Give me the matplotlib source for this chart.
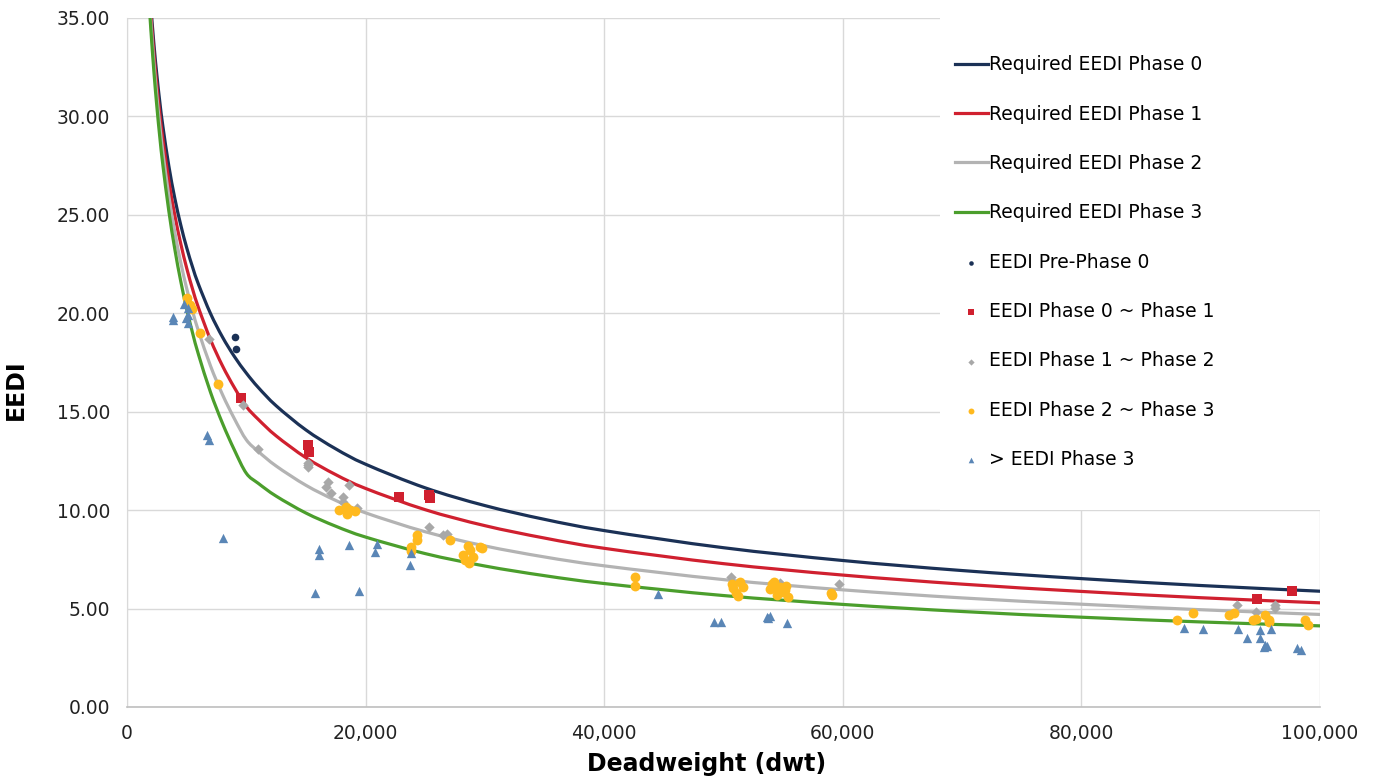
import matplotlib

matplotlib.use("Agg")

import matplotlib.pyplot as plt
import numpy as np
from matplotlib.lines import Line2D
from matplotlib.patches import PathPatch, Rectangle
from matplotlib.path import Path
from matplotlib.ticker import FuncFormatter, MultipleLocator

plt.rcParams["font.family"] = ["DejaVu Sans"]

# required EEDI lines
line_dwt = [1900, 2000, 2250, 2500, 2750, 3000, 3500, 4000, 4500, 5000, 5500, 6000,
            7000, 8000, 9000, 10000, 11000, 12500, 15000, 17500, 20000, 25000,
            30000, 35000, 40000, 50000, 60000, 70000, 80000, 90000, 100000]
phase0 = [36.40, 35.55, 33.68, 32.09, 30.71, 29.51, 27.49, 25.85, 24.49, 23.33, 22.33, 21.45,
          19.98, 18.79, 17.80, 16.96, 16.23, 15.30, 14.07, 13.11, 12.33, 11.13,
          10.23, 9.53, 8.96, 8.09, 7.44, 6.93, 6.52, 6.17, 5.88]
phase1 = [36.04, 35.16, 33.21, 31.56, 30.11, 28.85, 26.73, 24.99, 23.54, 22.29, 21.21, 20.26,
          18.65, 17.33, 16.22, 15.26, 14.61, 13.77, 12.66, 11.80, 11.10, 10.02,
          9.21, 8.58, 8.06, 7.28, 6.70, 6.24, 5.87, 5.55, 5.29]
phase2 = [35.67, 34.76, 32.74, 31.02, 29.52, 28.20, 25.96, 24.13, 22.58, 21.26, 20.10, 19.07,
          17.32, 15.87, 14.64, 13.57, 12.98, 12.24, 11.26, 10.49, 9.86, 8.90,
          8.18, 7.62, 7.17, 6.47, 5.95, 5.54, 5.22, 4.94, 4.70]
phase3 = [35.31, 34.37, 32.28, 30.49, 28.92, 27.54, 25.20, 23.27, 21.63, 20.22, 18.98, 17.88,
          15.98, 14.41, 13.05, 11.87, 11.36, 10.71, 9.85, 9.18, 8.63, 7.79,
          7.16, 6.67, 6.27, 5.66, 5.21, 4.85, 4.56, 4.32, 4.12]

# ships
pre0_dwt = [9050, 9110]
pre0_eedi = [18.8, 18.2]

p01_dwt = [9530, 15146, 15280, 22824, 25300, 25400, 94691, 97625]
p01_eedi = [15.71, 13.31, 12.97, 10.68, 10.75, 10.60, 5.50, 5.91]

p12_dwt = [6873, 9748, 10950, 15146, 15146, 15200, 16873, 16680, 17074, 18633, 18130,
           18130, 19253, 25339, 26512, 26847, 50602, 54734, 59705, 93015, 94633,
           96250, 96250]
p12_eedi = [18.71, 15.33, 13.10, 12.41, 12.21, 12.30, 11.44, 11.19, 10.86, 11.28, 10.65,
            10.43, 10.09, 9.16, 8.74, 8.79, 6.59, 6.31, 6.25, 5.20, 4.84,
            5.04, 5.18]

p23_dwt = [5004, 5281, 5423, 6119, 7653, 17795, 18357, 18466, 18692, 19111,
           24333, 24333, 23780, 23780, 27074, 28608, 28750, 28189, 28331, 28692,
           28977, 29588, 29750, 42581, 42581, 50686, 50820, 51046, 51239, 51382,
           51658, 54039, 54315, 54734, 55011, 55237, 55430, 54508, 53896, 54231,
           55150, 59068, 59000, 87986, 89377, 92344, 92789, 94407, 94633, 95412,
           95697, 95697, 98740, 99017]
p23_eedi = [20.76, 20.42, 20.20, 18.98, 16.39, 10.01, 10.14, 9.80, 10.01, 9.96,
            8.74, 8.48, 8.14, 7.94, 8.48, 8.18, 7.98, 7.72, 7.47, 7.33,
            7.63, 8.14, 8.10, 6.62, 6.15, 6.25, 6.03, 5.78, 5.64, 6.37,
            6.08, 6.25, 6.03, 6.11, 5.86, 6.15, 5.57, 5.69, 5.98, 6.35,
            5.94, 5.69, 5.79, 4.42, 4.76, 4.69, 4.76, 4.42, 4.49, 4.67,
            4.42, 4.30, 4.42, 4.18]

p3_dwt = [3831, 3856, 4803, 5088, 5088, 5138, 4945, 6731, 6898, 8072, 16093, 16093,
          15758, 18633, 20980, 20812, 23780, 23721, 19471, 44483, 49202, 49814,
          53620, 53896, 53728, 55346, 88623, 90215, 93149, 93853, 94968, 94968,
          95387, 95303, 95555, 95865, 98044, 98380]
p3_eedi = [19.66, 19.81, 20.47, 20.25, 19.91, 19.52, 19.76, 13.82, 13.56, 8.58, 8.01, 7.72,
           5.78, 8.23, 8.28, 7.89, 7.81, 7.20, 5.91, 5.72, 4.30, 4.33,
           4.59, 4.62, 4.52, 4.28, 4.00, 3.95, 3.96, 3.52, 3.91, 3.52,
           3.15, 3.05, 3.12, 3.95, 2.98, 2.90]

navy = "#1b3156"
red = "#d0202f"
grey = "#b3b3b3"
green = "#4b9e2c"
orange = "#ffb91e"
blue = "#5a86b6"
diamond_grey = "#a8a8a8"


def smooth_path(xs, ys):
    # Excel-style smoothed line: Catmull-Rom segments drawn as cubic Beziers
    pts = np.column_stack([xs, ys]).astype(float)
    ext = np.vstack([pts[0], pts, pts[-1]])
    verts = [pts[0]]
    codes = [Path.MOVETO]
    for i in range(1, len(ext) - 2):
        p0, p1, p2, p3 = ext[i - 1], ext[i], ext[i + 1], ext[i + 2]
        verts += [p1 + (p2 - p0) / 6.0, p2 - (p3 - p1) / 6.0, p2]
        codes += [Path.CURVE4] * 3
    return Path(verts, codes)


fig = plt.figure(figsize=(13.81, 7.78), dpi=100)
ax = fig.add_axes([0.092, 0.0913, 0.8638, 0.8856])

handles = []
for vals, col, lab in [
    (phase0, navy, "Required EEDI Phase 0"),
    (phase1, red, "Required EEDI Phase 1"),
    (phase2, grey, "Required EEDI Phase 2"),
    (phase3, green, "Required EEDI Phase 3"),
]:
    ax.add_patch(PathPatch(smooth_path(line_dwt, vals), fill=False, edgecolor=col,
                           lw=2.3, zorder=3, capstyle="round"))
    handles.append(Line2D([], [], color=col, lw=2.3, label=lab))

for xs, ys, m, s, col, lab in [
    (pre0_dwt, pre0_eedi, "o", 30, navy, "EEDI Pre-Phase 0"),
    (p01_dwt, p01_eedi, "s", 55, red, "EEDI Phase 0 ~ Phase 1"),
    (p12_dwt, p12_eedi, "D", 28, diamond_grey, "EEDI Phase 1 ~ Phase 2"),
    (p23_dwt, p23_eedi, "o", 50, orange, "EEDI Phase 2 ~ Phase 3"),
    (p3_dwt, p3_eedi, "^", 45, blue, "> EEDI Phase 3"),
]:
    handles.append(ax.scatter(xs, ys, s=s, marker=m, color=col, linewidths=0,
                              label=lab, zorder=4))

ax.set_xlim(0, 100000)
ax.set_ylim(0, 35)
ax.xaxis.set_major_locator(MultipleLocator(20000))
ax.yaxis.set_major_locator(MultipleLocator(5))
ax.xaxis.set_major_formatter(FuncFormatter(lambda v, p: f"{v:,.0f}"))
ax.yaxis.set_major_formatter(FuncFormatter(lambda v, p: f"{v:.2f}"))
ax.grid(True, color="#d9d9d9", lw=1.0, zorder=0)
ax.set_axisbelow(True)
ax.tick_params(length=0, labelsize=13.5, colors="#222222", pad=12)
for side in ("top", "right"):
    ax.spines[side].set_visible(False)
ax.spines["left"].set_color("#d9d9d9")
ax.spines["bottom"].set_color("#bfbfbf")
ax.spines["bottom"].set_linewidth(1.2)

ax.set_xlabel("Deadweight (dwt)", fontsize=17, fontweight="bold")
ax.set_ylabel("EEDI", fontsize=17, fontweight="bold")
ax.xaxis.set_label_coords(0.486, -0.066)
ax.yaxis.set_label_coords(-0.083, 0.46)

# white legend area hiding the gridlines, as in the spreadsheet chart
ax.add_patch(Rectangle((0.6815, 0.286), 0.3185, 0.714, transform=ax.transAxes,
                       facecolor="white", edgecolor="none", zorder=1))

leg = ax.legend(handles=handles, loc="upper left", bbox_to_anchor=(0.694, 0.946),
                fontsize=13.5, frameon=False, handlelength=1.75, handletextpad=0.05,
                labelspacing=1.62, markerscale=0.6, borderpad=0, borderaxespad=0)

fig.savefig("out.png", dpi=100)
